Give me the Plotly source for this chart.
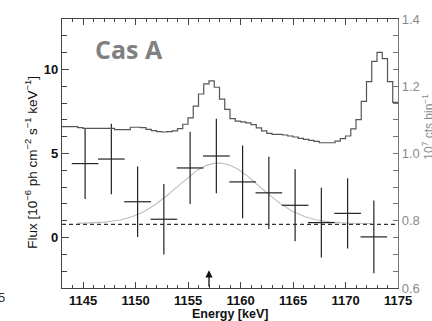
import numpy as np
import plotly.graph_objects as go

# Flux points (10^-6 ph cm^-2 s^-1 keV^-1) in 2.5 keV bins
energy = [1145.2, 1147.7, 1150.2, 1152.7, 1155.2, 1157.7,
          1160.2, 1162.7, 1165.2, 1167.7, 1170.2, 1172.7]
flux = [4.40, 4.67, 2.13, 1.09, 4.14, 4.85, 3.31, 2.66, 1.92, 0.89, 1.44, 0.04]
flux_err = [2.11, 2.10, 2.10, 2.10, 2.15, 2.21, 2.16, 2.15, 2.14, 2.07, 2.09, 2.17]
bin_half = [1.27] * len(energy)

# Count spectrum (10^7 cts per 0.5 keV bin), 1143-1175 keV
spec_lo = 1143.0
spec_step = 0.5
counts = [1.080, 1.080, 1.080, 1.077, 1.075, 1.075, 1.075, 1.075, 1.075, 1.075,
          1.071, 1.071, 1.071, 1.078, 1.078, 1.077, 1.072, 1.068, 1.065, 1.064,
          1.065, 1.067, 1.074, 1.087, 1.106, 1.141, 1.177, 1.207, 1.216, 1.197,
          1.162, 1.131, 1.104, 1.096, 1.094, 1.091, 1.086, 1.076, 1.067, 1.060,
          1.057, 1.057, 1.055, 1.052, 1.049, 1.045, 1.042, 1.039, 1.036, 1.032,
          1.032, 1.032, 1.037, 1.044, 1.052, 1.073, 1.101, 1.155, 1.214, 1.274,
          1.301, 1.282, 1.214, 1.152]

# Continuum level and Gaussian line model
continuum = 0.78
g_base, g_amp, g_center, g_sigma = 0.83, 3.61, 1157.9, 3.95
line_energy = 1157.0

edges = [spec_lo + spec_step * i for i in range(len(counts) + 1)]
step_y = counts + [counts[-1]]

gx = np.linspace(1144.5, 1172.5, 300)
gy = g_base + g_amp * np.exp(-0.5 * ((gx - g_center) / g_sigma) ** 2)

FONT = "Liberation Sans, Arial, sans-serif"
fig = go.Figure()

fig.add_trace(go.Scatter(
    x=edges, y=step_y, yaxis="y2", mode="lines",
    line=dict(shape="hv", color="#555555", width=1.2),
    hoverinfo="skip", showlegend=False))

fig.add_trace(go.Scatter(
    x=gx, y=gy, mode="lines",
    line=dict(color="#bdbdbd", width=1.1),
    hoverinfo="skip", showlegend=False))

fig.add_trace(go.Scatter(
    x=[1143, 1175], y=[continuum, continuum], mode="lines",
    line=dict(color="#333333", width=1.2, dash="4px,3px"),
    hoverinfo="skip", showlegend=False))

fig.add_trace(go.Scatter(
    x=energy, y=flux, mode="markers",
    marker=dict(size=1, color="rgba(0,0,0,0)"),
    error_x=dict(type="data", array=bin_half, symmetric=True,
                 color="#222222", thickness=1.2, width=0),
    error_y=dict(type="data", array=flux_err, symmetric=True,
                 color="#222222", thickness=1.2, width=0),
    showlegend=False))

axis_common = dict(showgrid=False, zeroline=False, showline=True,
                   ticks="inside")
tick_font = dict(family="Liberation Sans, Arial, sans-serif", size=13,
                 color="#111111", weight="bold")

fig.update_layout(
    width=432, height=321,
    margin=dict(l=62, r=32, t=17, b=33),
    paper_bgcolor="white", plot_bgcolor="white",
    font=dict(family=FONT, size=13, color="#111111"),
    xaxis=dict(**axis_common, range=[1143, 1175], tick0=1145, dtick=5,
               ticklen=6, tickcolor="#444444", linecolor="#444444",
               linewidth=1.2, mirror="ticks", tickfont=tick_font,
               minor=dict(dtick=1, ticks="inside", ticklen=3,
                          tickcolor="#444444")),
    yaxis=dict(**axis_common, range=[-3, 13], tick0=0, dtick=5,
               ticklen=7, tickcolor="#444444", linecolor="#444444",
               linewidth=1.2, tickfont=tick_font,
               minor=dict(dtick=1, ticks="inside", ticklen=5,
                          tickcolor="#444444")),
    yaxis2=dict(**axis_common, overlaying="y", side="right",
                range=[0.6, 1.4], tick0=0.6, dtick=0.2, tickformat=".1f",
                ticklen=5, tickcolor="#777777", linecolor="#777777",
                linewidth=1.2, tickfont=dict(size=13, color="#8a8a8a"),
                minor=dict(dtick=0.05, ticks="inside", ticklen=5,
                           tickcolor="#777777")),
)

fig.add_annotation(x=line_energy, y=-1.95, ax=line_energy, ay=-3.0,
                   xref="x", yref="y", axref="x", ayref="y",
                   showarrow=True, arrowhead=2, arrowsize=1.1,
                   arrowwidth=1.3, arrowcolor="#111111", text="")

fig.add_annotation(x=1149.4, y=11.2, xref="x", yref="y", text="<b>Cas A</b>",
                   showarrow=False, xanchor="center", yanchor="middle",
                   font=dict(family="Open Sans, sans-serif", size=25,
                             color="#808080"))

fig.add_annotation(x=0.5, y=-0.098, xref="paper", yref="paper",
                   text="<b>Energy [keV]</b>", showarrow=False,
                   xanchor="center", yanchor="middle",
                   font=dict(size=12.5, color="#111111"))

fig.add_annotation(x=-0.0926, y=0.4686, xref="paper", yref="paper",
                   text="Flux [10<sup>−6</sup> ph cm<sup>−2</sup> s<sup>−1</sup> keV<sup>−1</sup>]",
                   textangle=-90, showarrow=False,
                   xanchor="center", yanchor="middle",
                   font=dict(size=13.5, color="#111111"))

fig.add_annotation(x=1.0867, y=0.6, xref="paper", yref="paper",
                   text="10<sup>7</sup> cts bin<sup>−1</sup>",
                   textangle=-90, showarrow=False,
                   xanchor="center", yanchor="middle",
                   font=dict(size=12, color="#8a8a8a"))

fig.add_annotation(x=-0.165, y=-0.035, xref="paper", yref="paper",
                   text="5", showarrow=False,
                   xanchor="right", yanchor="middle",
                   font=dict(size=13, color="#333333"))

fig.write_html("out.html")
